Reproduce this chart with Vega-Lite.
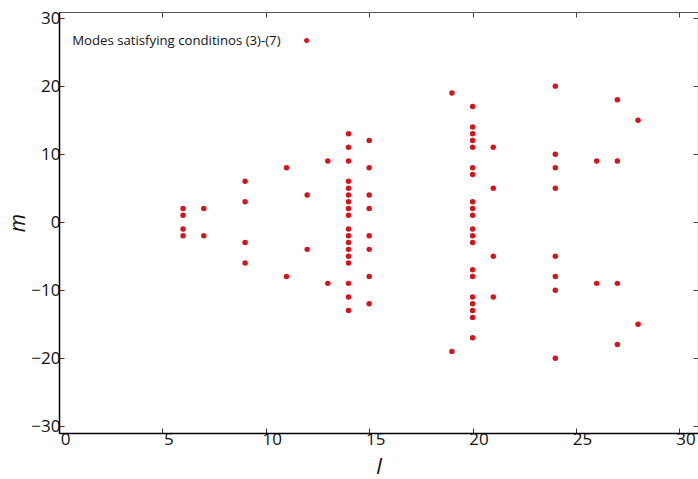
{
  "$schema": "https://vega.github.io/schema/vega-lite/v6.json",
  "width": 639,
  "height": 421,
  "autosize": {"type": "none"},
  "padding": {"left": 59, "top": 12, "right": 0, "bottom": 46},
  "background": "white",
  "config": {
    "view": {"stroke": null},
    "font": "Open Sans"
  },
  "resolve": {"axis": {"x": "independent", "y": "independent"}},
  "layer": [
    {
      "data": {"values": [
        {"l": 6, "m": 2}, {"l": 6, "m": 1}, {"l": 6, "m": -1}, {"l": 6, "m": -2},
        {"l": 7, "m": 2}, {"l": 7, "m": -2},
        {"l": 9, "m": 6}, {"l": 9, "m": 3}, {"l": 9, "m": -3}, {"l": 9, "m": -6},
        {"l": 11, "m": 8}, {"l": 11, "m": -8},
        {"l": 12, "m": 4}, {"l": 12, "m": -4},
        {"l": 13, "m": 9}, {"l": 13, "m": -9},
        {"l": 14, "m": 13}, {"l": 14, "m": 11}, {"l": 14, "m": 9}, {"l": 14, "m": 6}, {"l": 14, "m": 5}, {"l": 14, "m": 4}, {"l": 14, "m": 3}, {"l": 14, "m": 2}, {"l": 14, "m": 1},
        {"l": 14, "m": -1}, {"l": 14, "m": -2}, {"l": 14, "m": -3}, {"l": 14, "m": -4}, {"l": 14, "m": -5}, {"l": 14, "m": -6}, {"l": 14, "m": -9}, {"l": 14, "m": -11}, {"l": 14, "m": -13},
        {"l": 15, "m": 12}, {"l": 15, "m": 8}, {"l": 15, "m": 4}, {"l": 15, "m": 2}, {"l": 15, "m": -2}, {"l": 15, "m": -4}, {"l": 15, "m": -8}, {"l": 15, "m": -12},
        {"l": 19, "m": 19}, {"l": 19, "m": -19},
        {"l": 20, "m": 17}, {"l": 20, "m": 14}, {"l": 20, "m": 13}, {"l": 20, "m": 12}, {"l": 20, "m": 11}, {"l": 20, "m": 8}, {"l": 20, "m": 7}, {"l": 20, "m": 3}, {"l": 20, "m": 2}, {"l": 20, "m": 1},
        {"l": 20, "m": -1}, {"l": 20, "m": -2}, {"l": 20, "m": -3}, {"l": 20, "m": -7}, {"l": 20, "m": -8}, {"l": 20, "m": -11}, {"l": 20, "m": -12}, {"l": 20, "m": -13}, {"l": 20, "m": -14}, {"l": 20, "m": -17},
        {"l": 21, "m": 11}, {"l": 21, "m": 5}, {"l": 21, "m": -5}, {"l": 21, "m": -11},
        {"l": 24, "m": 20}, {"l": 24, "m": 10}, {"l": 24, "m": 8}, {"l": 24, "m": 5}, {"l": 24, "m": -5}, {"l": 24, "m": -8}, {"l": 24, "m": -10}, {"l": 24, "m": -20},
        {"l": 26, "m": 9}, {"l": 26, "m": -9},
        {"l": 27, "m": 18}, {"l": 27, "m": 9}, {"l": 27, "m": -9}, {"l": 27, "m": -18},
        {"l": 28, "m": 15}, {"l": 28, "m": -15}
      ]},
      "mark": {"type": "circle", "size": 30, "opacity": 1},
      "encoding": {
        "x": {
          "field": "l", "type": "quantitative",
          "scale": {"domain": [0, 30.9], "nice": false, "zero": false},
          "axis": {
            "orient": "bottom", "values": [0, 5, 10, 15, 20, 25, 30],
            "grid": false, "tickSize": -5, "tickColor": "#333", "tickWidth": 1,
            "domainColor": "#000", "domainWidth": 1.5,
            "labelFont": "Open Sans", "labelFontSize": 17, "labelColor": "#111",
            "labelOffset": 6, "labelPadding": 3, "labelFlush": false,
            "title": "l", "titleFont": "Open Sans", "titleFontSize": 22,
            "titleFontStyle": "italic", "titleFontWeight": "normal", "titleColor": "#111",
            "titlePadding": 9
          }
        },
        "y": {
          "field": "m", "type": "quantitative",
          "scale": {"domain": [-31, 30.9], "nice": false, "zero": false},
          "axis": {
            "orient": "left", "values": [-30, -20, -10, 0, 10, 20, 30],
            "grid": false, "tickSize": -5, "tickColor": "#333", "tickWidth": 1,
            "domainColor": "#000", "domainWidth": 1.5,
            "labelFont": "Open Sans", "labelFontSize": 17, "labelColor": "#111",
            "labelPadding": 4, "labelFlush": false,
            "title": "m", "titleFont": "Open Sans", "titleFontSize": 21,
            "titleFontStyle": "italic", "titleFontWeight": "normal", "titleColor": "#111",
            "titlePadding": 2
          }
        },
        "color": {
          "datum": "Modes satisfying conditinos (3)-(7)",
          "scale": {"range": ["#d7141e"]},
          "legend": {
            "orient": "none", "legendX": 7, "legendY": 22, "title": null,
            "padding": 0, "labelFont": "Open Sans", "labelFontSize": 13.2, "labelColor": "#111",
            "labelLimit": 400,
            "symbolType": "circle", "symbolSize": 25, "symbolStrokeWidth": 0,
            "symbolOffset": 234, "labelOffset": -241
          }
        }
      }
    },
    {
      "data": {"values": []},
      "mark": {"type": "circle", "size": 30},
      "encoding": {
        "x": {
          "field": "l", "type": "quantitative",
          "scale": {"domain": [0, 30.9], "nice": false, "zero": false},
          "axis": {
            "orient": "top", "values": [0, 5, 10, 15, 20, 25, 30], "labels": false, "title": null,
            "grid": false, "tickSize": -5, "tickColor": "#444", "tickWidth": 1,
            "domainColor": "#555", "domainWidth": 1.2
          }
        },
        "y": {
          "field": "m", "type": "quantitative",
          "scale": {"domain": [-31, 30.9], "nice": false, "zero": false},
          "axis": {
            "orient": "right", "values": [-30, -20, -10, 0, 10, 20, 30], "labels": false, "title": null,
            "grid": false, "tickSize": -5, "tickColor": "#444", "tickWidth": 1,
            "domainColor": "#555", "domainWidth": 1.2
          }
        }
      }
    }
  ]
}
